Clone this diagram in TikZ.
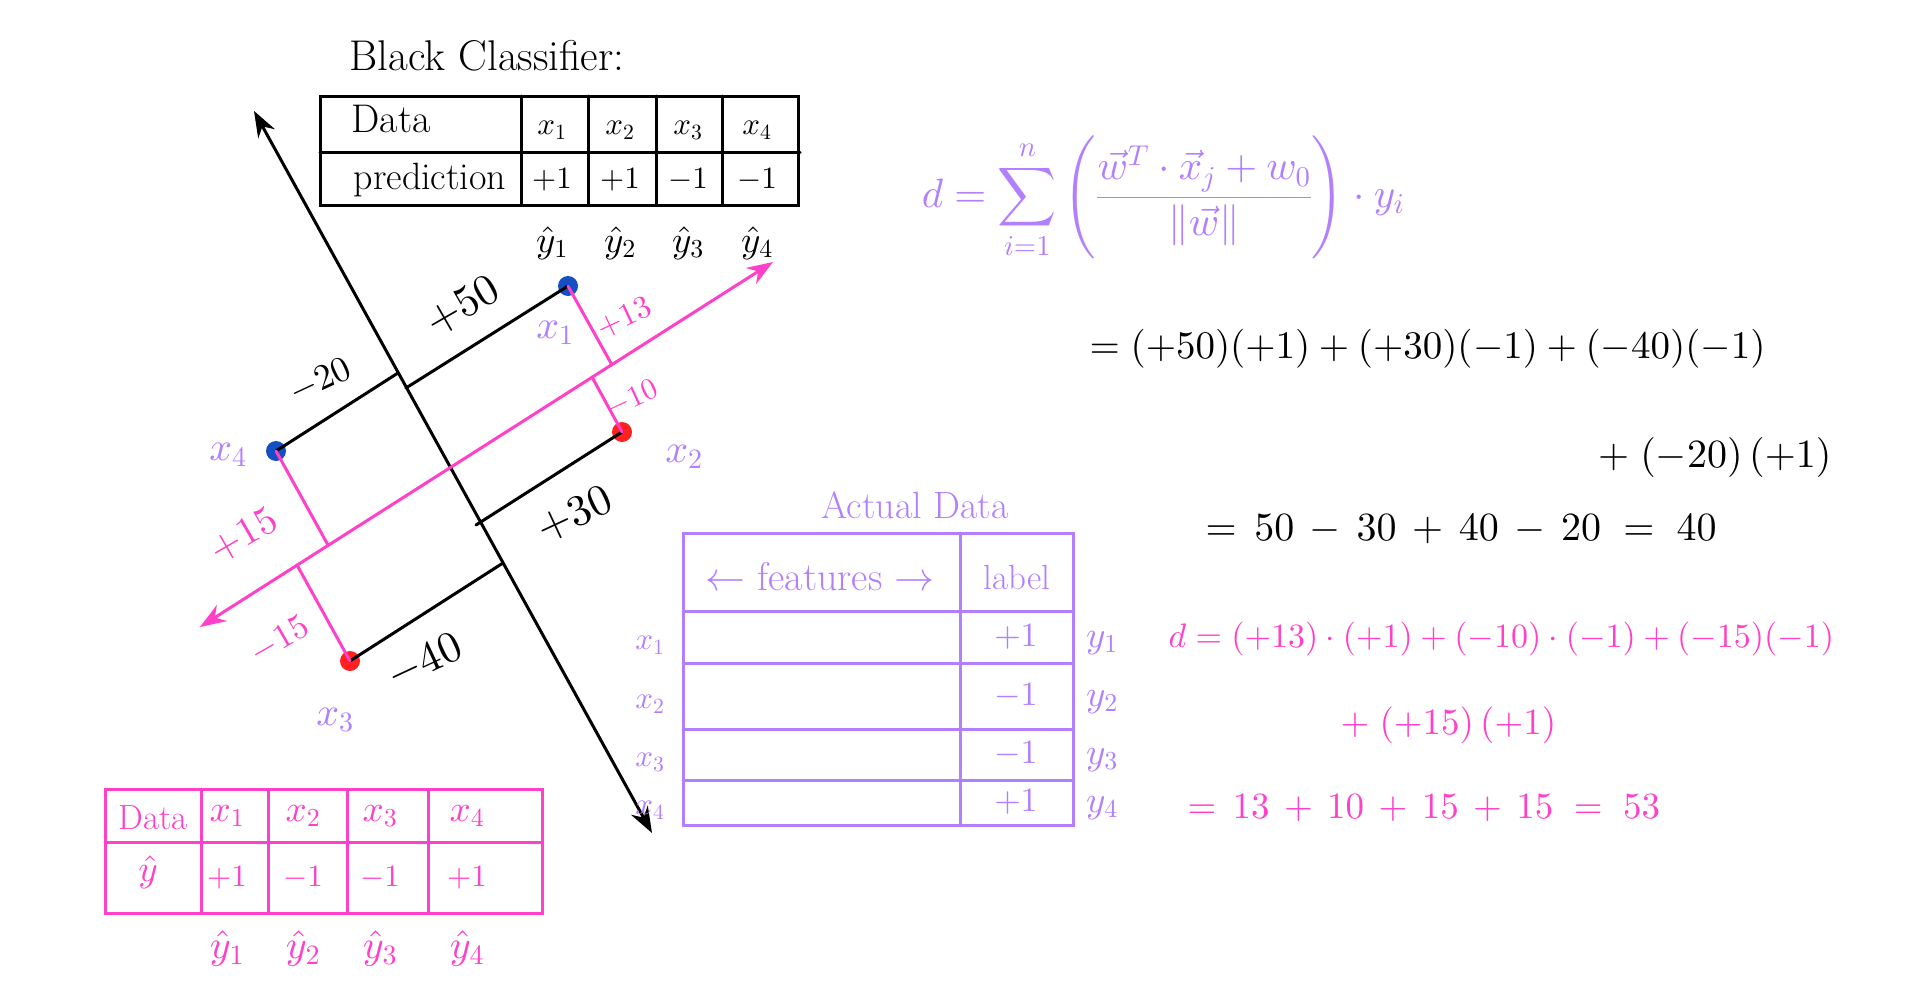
\documentclass[tikz,border=0pt]{standalone}
\usepackage{amsmath}
\usepackage{tikz}
\usetikzlibrary{arrows.meta}
% scalable math fonts
\DeclareFontShape{OT1}{cmr}{m}{n}{<->cmr10}{}
\DeclareFontShape{OML}{cmm}{m}{it}{<->cmmi10}{}
\DeclareFontShape{OMS}{cmsy}{m}{n}{<->cmsy10}{}
\DeclareFontShape{OMX}{cmex}{m}{n}{<->cmex10}{}

\definecolor{pinkish}{RGB}{255,64,200}
\definecolor{lilac}{RGB}{178,128,255}
\definecolor{dotblue}{RGB}{22,78,196}
\definecolor{dotred}{RGB}{255,32,32}

\begin{document}
\begin{tikzpicture}[x=1pt,y=-1pt,line width=3pt,line cap=round]
      \tikzstyle{every node}=[inner sep=2pt, font=\fontsize{40}{48}\selectfont]
      \tikzstyle{tab}=[font=\fontsize{31}{37}\selectfont]
      \tikzstyle{hat}=[font=\fontsize{37}{44}\selectfont]
      \tikzstyle{bluedot}=[circle, fill=dotblue, minimum size=20pt, inner sep=0pt]
      \tikzstyle{reddot}=[circle, fill=dotred, minimum size=20pt, inner sep=0pt]
      \tikzstyle{both}=[{Stealth[length=26pt,width=19pt]}-{Stealth[length=26pt,width=19pt]}]
      \fill[white] (0,0) rectangle (1920,1001);
      \useasboundingbox (0,0) rectangle (1920,1001);

      % black classifier table
      \node[font=\fontsize{43}{50}\selectfont] (title) at (487,56) {Black Classifier:};
      \draw (320,96) rectangle (798,205);
      \draw (320,152) -- (800,152);
      \foreach \c in {521,588,656,722} \draw (\c,96) -- (\c,205);
      \node (tdata) at (391,119) {Data};
      \node[font=\fontsize{38}{46}\selectfont] (tpred) at (430,180) {prediction};
      \foreach \i/\x/\p in {1/552/+1, 2/620/+1, 3/688/-1, 4/757/-1} {
        \node[tab] (tx\i) at (\x,130) {$x_\i$};
        \node[tab] (tp\i) at (\x,180) {$\p$};
        \node[hat] (th\i) at (\x,243) {$\hat{y}_\i$};
      }

      % points and the two lines
      \node[bluedot] (x1) at (568,286) {};
      \node[bluedot] (x4) at (276,451) {};
      \node[reddot] (x2) at (622,432) {};
      \node[reddot] (x3) at (350,661) {};
      \coordinate (wtop) at (254,111);
      \coordinate (wbot) at (652,833);
      \coordinate (ptop) at (773,262);
      \coordinate (pbot) at (200,627);
      \coordinate (b1) at (406,388);
      \coordinate (b2) at (476,525);
      \coordinate (b3) at (503,563);
      \coordinate (b4) at (398,373);
      \coordinate (q1) at (612,365);
      \coordinate (q2) at (592,377);
      \coordinate (q3) at (297,565);
      \coordinate (q4) at (328,545);
      \draw[both] (wtop) -- (wbot);
      \draw[both, pinkish] (pbot) -- (ptop);
      \foreach \i in {1,...,4} {
        \draw (x\i.center) -- (b\i);
        \draw[pinkish] (x\i.center) -- (q\i);
      }
      \node[font=\fontsize{44}{52}\selectfont, rotate=30] (d1) at (463,306) {$+50$};
      \node[font=\fontsize{36}{44}\selectfont, rotate=25] (d4) at (320,381) {$-20$};
      \node[font=\fontsize{44}{52}\selectfont, rotate=25] (d2) at (575,515) {$+30$};
      \node[font=\fontsize{44}{52}\selectfont, rotate=25] (d3) at (425,662) {$-40$};
      \node[font=\fontsize{32}{38}\selectfont, rotate=25, pinkish] (m1) at (624,318) {$+13$};
      \node[font=\fontsize{30}{36}\selectfont, rotate=25, pinkish] (m2) at (632,399) {$-10$};
      \node[font=\fontsize{40}{48}\selectfont, rotate=30, pinkish] (m4) at (244,536) {$+15$};
      \node[font=\fontsize{35}{42}\selectfont, rotate=30, pinkish] (m3) at (280,640) {$-15$};
      \node[lilac] (l1) at (555,333) {$x_1$};
      \node[lilac] (l4) at (228,455) {$x_4$};
      \node[lilac] (l2) at (684,457) {$x_2$};
      \node[lilac] (l3) at (335,720) {$x_3$};

      % actual data
      \node[lilac, font=\fontsize{38}{46}\selectfont] (atitle) at (915,505) {Actual Data};
      \draw[lilac] (683,533) rectangle (1073,825);
      \foreach \r in {611,663,729,780} \draw[lilac] (683,\r) -- (1073,\r);
      \draw[lilac] (960,533) -- (960,825);
      \node[lilac, font=\fontsize{40}{48}\selectfont] (feat) at (820,577) {$\leftarrow$ features $\rightarrow$};
      \node[lilac, font=\fontsize{35}{42}\selectfont] (alab) at (1017,577) {label};
      \foreach \i/\y/\v in {1/637/+1, 2/696/-1, 3/754/-1, 4/802/+1} {
        \node[lilac, font=\fontsize{34}{40}\selectfont] (av\i) at (1016,\y) {$\v$};
        \node[lilac, hat] (ay\i) at (1102,\y+6) {$y_\i$};
        \node[lilac, tab] (ax\i) at (650,\y+8) {$x_\i$};
      }

      % predicted labels
      \draw[pinkish] (105,789) rectangle (542,913);
      \draw[pinkish] (105,842) -- (542,842);
      \foreach \c in {201,268,347,428} \draw[pinkish] (\c,789) -- (\c,913);
      \node[pinkish, font=\fontsize{35}{42}\selectfont] (pdata) at (153,818) {Data};
      \node[pinkish, hat] (phat) at (148,872) {$\hat{y}$};
      \foreach \i/\x/\v in {1/227/+1, 2/303/-1, 3/380/-1, 4/467/+1} {
        \node[pinkish, hat] (px\i) at (\x,816) {$x_\i$};
        \node[pinkish, tab] (pv\i) at (\x,878) {$\v$};
        \node[pinkish, font=\fontsize{40}{48}\selectfont] (ph\i) at (\x,948) {$\hat{y}_\i$};
      }

      % distances
      \node[lilac, font=\fontsize{41}{49}\selectfont] (dform) at (1163,198)
        {$d=\displaystyle\sum_{i=1}^{n}\left(\frac{\vec{w}^{T}\cdot\vec{x}_j+w_0}{\|\vec{w}\|}\right)\cdot y_i$};
      \node[font=\fontsize{39}{47}\selectfont, anchor=west] (e1) at (1086,349) {$=(+50)(+1)+(+30)(-1)+(-40)(-1)$};
      \node[font=\fontsize{40}{48}\selectfont, anchor=east] (e2) at (1835,457) {$+\;(-20)\,(+1)$};
      \node[font=\fontsize{40}{48}\selectfont, anchor=west] (e3) at (1202,529) {$=\,50\,-\,30\,+\,40\,-\,20\;=\;40$};
      \node[font=\fontsize{34}{41}\selectfont, anchor=west, pinkish] (f1) at (1165,639) {$d=(+13)\cdot(+1)+(-10)\cdot(-1)+(-15)(-1)$};
      \node[font=\fontsize{37}{44}\selectfont, anchor=west, pinkish] (f2) at (1337,725) {$+\;(+15)\,(+1)$};
      \node[font=\fontsize{37}{44}\selectfont, anchor=west, pinkish] (f3) at (1184,808) {$=\,13\,+\,10\,+\,15\,+\,15\;=\;53$};
\end{tikzpicture}
\end{document}
